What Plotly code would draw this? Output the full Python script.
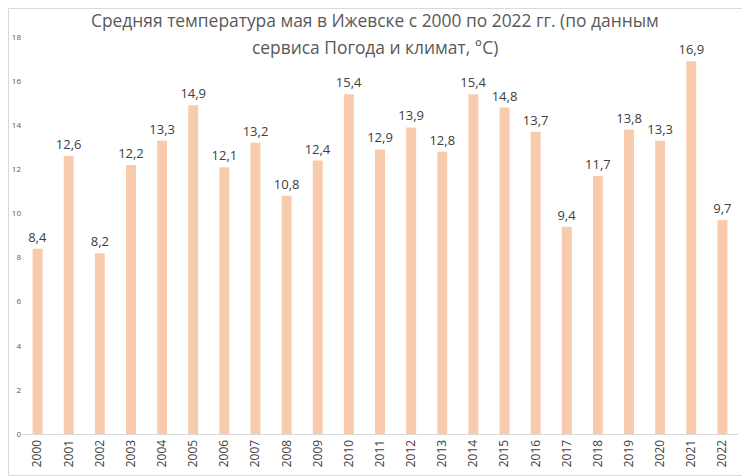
import plotly.graph_objects as go

years = [str(y) for y in range(2000, 2023)]
temps = [8.4, 12.6, 8.2, 12.2, 13.3, 14.9, 12.1, 13.2, 10.8, 12.4, 15.4, 12.9,
         13.9, 12.8, 15.4, 14.8, 13.7, 9.4, 11.7, 13.8, 13.3, 16.9, 9.7]
labels = [f"{v:.1f}".replace(".", ",") for v in temps]
y_ticks = list(range(0, 19, 2))
title_lines = ["Средняя температура мая в Ижевске с 2000 по 2022 гг. (по данным",
               "сервиса Погода и климат, °С)"]

# page body has an 8px margin, so the figure is drawn offset by 8px
OFF = 8
W, H = 750 - OFF, 476 - OFF
ml, mr, mt, mb = 22 - OFF, 12, 37 - OFF, 42
pw, ph = W - ml - mr, H - mt - mb
FONT = "Open Sans, Liberation Sans, sans-serif"


def py(p):
    return (H - mb - (p - OFF)) / ph


def px(p):
    return (p - OFF - ml) / pw


fig = go.Figure(go.Bar(
    x=years, y=temps, text=labels, textposition="outside",
    constraintext="none",
    textfont=dict(size=13, color="#404040", family=FONT),
    marker=dict(color="#F8CBAD", line=dict(width=0)),
    cliponaxis=False,
))

annotations = []
for line, ypix in zip(title_lines, [20, 47]):
    annotations.append(dict(
        text=line, x=px(375), xref="paper", y=py(ypix), yref="paper",
        xanchor="center", yanchor="middle", showarrow=False,
        font=dict(size=17.4, color="#595959", family=FONT),
    ))

fig.update_layout(
    width=W, height=H,
    margin=dict(l=ml, r=mr, t=mt, b=mb),
    paper_bgcolor="white", plot_bgcolor="white",
    bargap=0.68,
    showlegend=False,
    font=dict(family=FONT),
    annotations=annotations,
    xaxis=dict(
        tickangle=-90, showgrid=False, showline=True, linecolor="#D9D9D9", linewidth=1,
        tickfont=dict(size=12, color="#404040"), ticks="", automargin=False,
    ),
    yaxis=dict(
        range=[0, 18], tickvals=y_ticks, showgrid=False, zeroline=False,
        tickfont=dict(size=8, color="#595959"), ticks="", automargin=False,
    ),
    shapes=[dict(
        type="rect", xref="paper", yref="paper",
        x0=-(ml - 0.5) / pw, x1=(W - ml - 0.5) / pw,
        y0=-(mb - 0.5) / ph, y1=(H - mb - 0.5) / ph,
        line=dict(color="#D9D9D9", width=1), layer="below",
    )],
)

fig.write_html("out.html")
